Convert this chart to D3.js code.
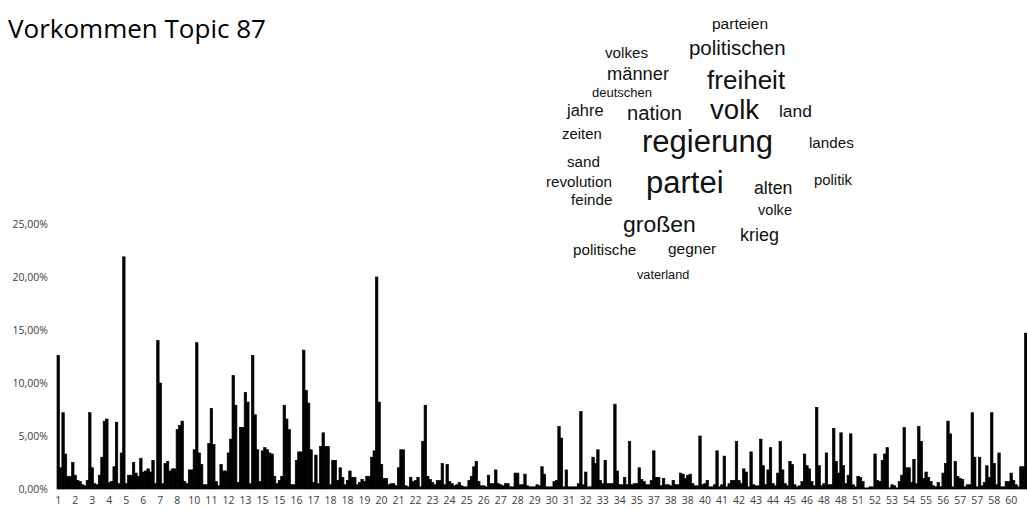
<!DOCTYPE html>
<html>
<head>
<meta charset="utf-8">
<script src="https://cdnjs.cloudflare.com/ajax/libs/d3/7.8.5/d3.min.js"></script>
<style>
  body { margin: 0; background: #fff; }
</style>
</head>
<body>
<script>
var width = 1027,
    height = 509;

// share of topic 87 per document, in percent
var values = [
  12.6,2.0,7.2,3.3,1.2,1.2,2.5,1.3,0.8,0.7,
  0.4,0.3,0.8,7.2,2.0,0.5,0.4,1.3,3.0,6.4,
  6.6,0.6,0.7,2.1,6.3,0.5,3.4,21.9,0.5,1.3,
  1.3,2.5,1.5,1.2,2.9,1.6,1.7,1.9,1.6,2.7,
  0.5,14.0,10.0,0.5,2.4,2.6,1.7,1.9,1.9,5.6,
  6.0,6.4,0.7,0.5,1.8,
  1.8,3.7,13.8,3.4,2.3,0.4,0.4,4.3,7.6,4.2,
  0.7,0.3,2.3,1.7,1.7,3.4,4.7,10.7,7.9,0.6,
  5.8,5.8,9.1,8.2,0.5,12.6,7.0,3.7,0.7,3.6,
  3.9,3.7,3.4,3.3,1.2,0.5,0.8,1.2,7.9,6.6,
  5.6,0.4,0.4,2.7,3.5,3.5,13.1,9.3,8.1,3.7,
  0.6,3.2,0.5,4.0,5.3,4.0,
  4.0,0.4,2.7,2.7,0.8,2.0,1.1,0.4,0.8,1.7,
  1.1,1.1,0.4,0.6,0.9,0.7,1.2,1.2,3.0,3.6,
  20.0,8.2,2.3,1.0,1.0,0.4,0.5,0.5,0.3,2.0,
  3.7,3.7,0.3,0.2,1.1,0.7,0.8,1.1,0.2,4.5,
  7.9,1.2,0.9,0.6,0.4,0.8,0.8,2.4,0.4,2.3,
  0.7,0.5,0.3,0.4,0.6,0.3,0.2,
  0.2,0.8,1.2,2.1,2.6,0.7,0.3,0.3,0.2,1.3,
  0.5,0.5,1.8,0.5,0.4,0.3,0.5,0.5,0.2,0.2,
  1.5,1.5,0.4,0.4,1.4,0.3,0.2,0.2,0.2,0.4,
  0.3,2.1,1.4,0.2,0.2,0.2,0.7,0.8,5.9,4.8,
  0.2,1.8,0.2,0.2,0.2,0.2,0.5,7.3,0.4,1.6,
  0.2,0.2,3.0,2.4,3.7,0.8,0.5,
  2.7,0.5,0.5,0.5,8.0,1.7,0.4,0.4,1.1,0.4,
  4.5,0.4,0.5,0.5,2.0,0.9,0.7,0.4,0.4,0.8,
  3.6,1.1,1.1,0.3,1.0,0.4,0.4,0.3,0.8,0.4,
  0.4,1.5,1.4,1.0,1.3,1.4,0.5,0.3,0.3,5.0,
  0.4,0.5,0.8,0.2,0.2,0.4,3.6,0.2,0.4,3.1,
  0.2,0.5,0.8,0.8,4.5,0.8,0.5,
  1.9,1.6,0.2,3.5,0.4,0.3,0.3,4.7,2.2,0.4,
  1.8,3.9,0.5,0.3,1.5,4.5,1.8,0.5,0.3,2.6,
  2.3,0.4,0.2,0.3,0.7,3.3,2.2,1.9,0.7,0.3,
  7.7,2.2,0.3,0.5,3.4,0.4,0.4,5.7,2.6,1.5,
  5.3,2.2,0.5,1.3,5.2,0.4,0.2,1.2,1.1,0.7,
  0.1,0.1,0.2,0.2,3.3,0.8,0.7,
  2.7,3.3,3.9,0.1,0.4,0.3,0.1,0.7,1.3,5.8,
  2.0,2.0,0.6,2.8,0.5,5.9,4.5,1.0,1.6,1.1,
  0.7,0.3,0.2,0.6,0.2,1.5,2.4,6.4,5.2,0.2,
  2.6,1.2,1.0,0.9,0.2,0.4,0.4,7.2,3.0,0.2,
  3.0,0.3,0.6,2.2,1.1,7.2,2.4,0.4,3.4,0.2,
  0.2,0.7,0.7,1.5,0.8,0.4,0.2,2.1,2.1,14.7
];

// every 7th category gets a visible label
var labelStep = 7;
var tickLabels = [
  "1","2","3","4","5","6","7","8","10","11","12","13","15","15","16","17",
  "18","18","19","20","21","22","23","24","25","26","27","28","29","30",
  "31","32","33","34","35","37","38","38","40","41","42","43","44","45",
  "46","48","48","51","52","53","54","55","56","57","57","58","60"
];

var yTicks = [0, 5, 10, 15, 20, 25];

// word cloud: words and relative weights
var cloudWords = ["parteien","politischen","volkes","männer","freiheit","deutschen",
  "jahre","nation","volk","land","zeiten","regierung","landes","sand","revolution",
  "partei","politik","alten","feinde","volke","großen","krieg","politische","gegner","vaterland"];
var cloudWeights = [50,66,49,59,84,42,53,65,89,56,48,100,49,49,49,100,48,57,49,47,74,58,49,50,41];

// placement of the cloud words (left x, baseline y)
var cloudLayout = [[712,29],[689,55],[605,58],[607,80],[707,89],[592,97],
  [567,116],[627,120],[710,119],[779,117],[562,139],[642,152],[809,148],[567,167],[546,187],
  [646,193],[814,185],[754,194],[571,205],[758,215],[623,232],[740,241],[573,255],[668,254],[637,279]];

var svg = d3.select("body")
  .append("svg")
  .attr("width", width)
  .attr("height", height);

svg.append("rect")
  .attr("width", width)
  .attr("height", height)
  .attr("fill", "#fff");

svg.append("text")
  .attr("x", 8)
  .attr("y", 38)
  .attr("font-family", "Open Sans")
  .attr("font-size", 26)
  .attr("fill", "#000")
  .text("Vorkommen Topic 87");

var x = d3.scaleBand()
  .domain(d3.range(values.length))
  .range([57, 1027])
  .padding(0);

var y = d3.scaleLinear()
  .domain([0, 25])
  .range([489, 224]);

svg.append("g")
    .attr("class", "bars")
  .selectAll("rect")
  .data(values)
  .enter().append("rect")
    .attr("x", function(d, i) { return x(i); })
    .attr("width", x.bandwidth())
    .attr("y", function(d) { return y(d); })
    .attr("height", function(d) { return y(0) - y(d); })
    .attr("fill", "#000")
    .attr("stroke", "#000")
    .attr("stroke-width", 0.7);

var xAxis = svg.append("g")
  .attr("transform", "translate(0," + y(0) + ")")
  .call(d3.axisBottom(x)
    .tickValues(d3.range(0, values.length, labelStep))
    .tickFormat(function(i) { return tickLabels[i / labelStep]; })
    .tickSize(0)
    .tickPadding(8));

xAxis.select(".domain").attr("stroke", "#a6a6a6");
xAxis.selectAll("text")
  .attr("font-family", "Open Sans")
  .attr("font-size", 10.5)
  .attr("fill", "#404040");

var yAxis = svg.append("g")
  .attr("transform", "translate(57,0)")
  .call(d3.axisLeft(y)
    .tickValues(yTicks)
    .tickFormat(function(d) { return d.toFixed(2).replace(".", ",") + "%"; })
    .tickSize(0)
    .tickPadding(9));

yAxis.select(".domain").remove();
yAxis.selectAll("text")
  .attr("font-family", "Open Sans")
  .attr("font-size", 10.5)
  .attr("fill", "#404040");

var fontSize = d3.scaleLinear().domain([0, 100]).range([0, 31]);

svg.append("g")
    .attr("class", "cloud")
  .selectAll("text")
  .data(cloudWords)
  .enter().append("text")
    .attr("x", function(d, i) { return cloudLayout[i][0]; })
    .attr("y", function(d, i) { return cloudLayout[i][1]; })
    .attr("font-family", "Liberation Sans, Arial, sans-serif")
    .attr("font-size", function(d, i) { return fontSize(cloudWeights[i]); })
    .attr("fill", "#111")
    .text(function(d) { return d; });
</script>
</body>
</html>
